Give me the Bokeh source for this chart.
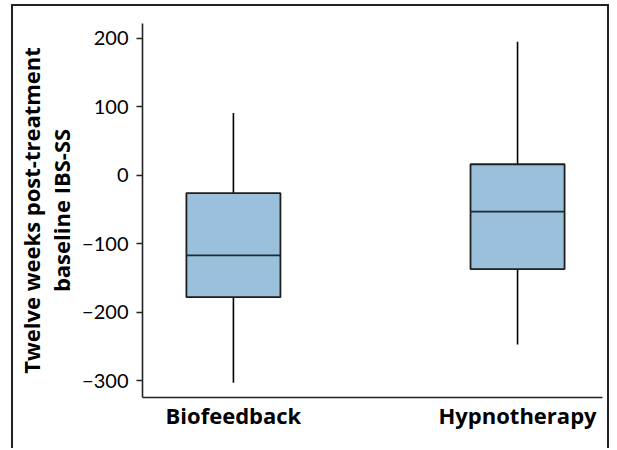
from bokeh.plotting import figure
from bokeh.models import FixedTicker
from bokeh.embed import file_html
from bokeh.resources import INLINE

# ---- data ----
categories = ["Biofeedback", "Hypnotherapy"]
positions = [1, 2]
whisker_low = [-303, -247]
q1 = [-178, -137]
median = [-117, -53]
q3 = [-26, 16]
whisker_high = [91, 195]

y_ticks = [-300, -200, -100, 0, 100, 200]
y_tick_labels = ["\u2212300", "\u2212200", "\u2212100", "0", "100", "200"]
y_title = "Twelve weeks post-treatment\nbaseline IBS-SS"

FONT = "Lato"
BOLD_FONT = "Open Sans"
BOX_W = 0.331

p = figure(width=598, height=444, output_backend="svg", toolbar_location=None,
           x_range=(0.680, 2.299), y_range=(-324.5, 221.5),
           min_border_left=100, min_border_right=9, min_border_top=17, min_border_bottom=53,
           background_fill_color="white", border_fill_color="white")
p.margin = (4, 0, 0, 11)
p.styles = {"border-top": "2px solid #222", "border-left": "2px solid #222",
            "border-right": "2px solid #222", "border-bottom": "none"}
p.outline_line_color = None
p.grid.visible = False

# whiskers
p.segment(x0=positions, y0=whisker_low, x1=positions, y1=q1, line_color="black", line_width=1.6)
p.segment(x0=positions, y0=q3, x1=positions, y1=whisker_high, line_color="black", line_width=1.6)
# boxes
p.vbar(x=positions, width=BOX_W, bottom=q1, top=q3, fill_color="#9ac0db",
       line_color="#1e1e1e", line_width=1.8)
# medians
p.segment(x0=[x - BOX_W / 2 for x in positions], y0=median,
          x1=[x + BOX_W / 2 for x in positions], y1=median,
          line_color="#1e2a33", line_width=1.8)

# y axis
yax = p.yaxis[0]
yax.ticker = FixedTicker(ticks=y_ticks)
yax.major_label_overrides = {t: l for t, l in zip(y_ticks, y_tick_labels)}
yax.minor_tick_line_color = None
yax.major_tick_in = 0
yax.major_tick_out = 6
yax.major_tick_line_width = 1.6
yax.axis_line_width = 1.6
yax.axis_line_color = "#222"
yax.major_tick_line_color = "#222"
yax.major_label_text_font = FONT
yax.major_label_text_font_size = "20px"
yax.major_label_text_color = "black"
yax.major_label_standoff = 8
yax.axis_label = y_title
yax.axis_label_text_font = BOLD_FONT
yax.axis_label_text_font_style = "bold"
yax.axis_label_text_font_size = "22px"
yax.axis_label_text_color = "black"
yax.axis_label_text_line_height = 1.0
yax.axis_label_standoff = 3

# x axis
xax = p.xaxis[0]
xax.ticker = FixedTicker(ticks=positions)
xax.major_label_overrides = {pos: c for pos, c in zip(positions, categories)}
xax.minor_tick_line_color = None
xax.major_tick_in = 0
xax.major_tick_out = 0
xax.axis_line_width = 1.6
xax.axis_line_color = "#222"
xax.major_label_text_font = BOLD_FONT
xax.major_label_text_font_style = "bold"
xax.major_label_text_font_size = "22px"
xax.major_label_text_color = "black"
xax.major_label_standoff = 2

open("out.html", "w").write(file_html(p, INLINE))
